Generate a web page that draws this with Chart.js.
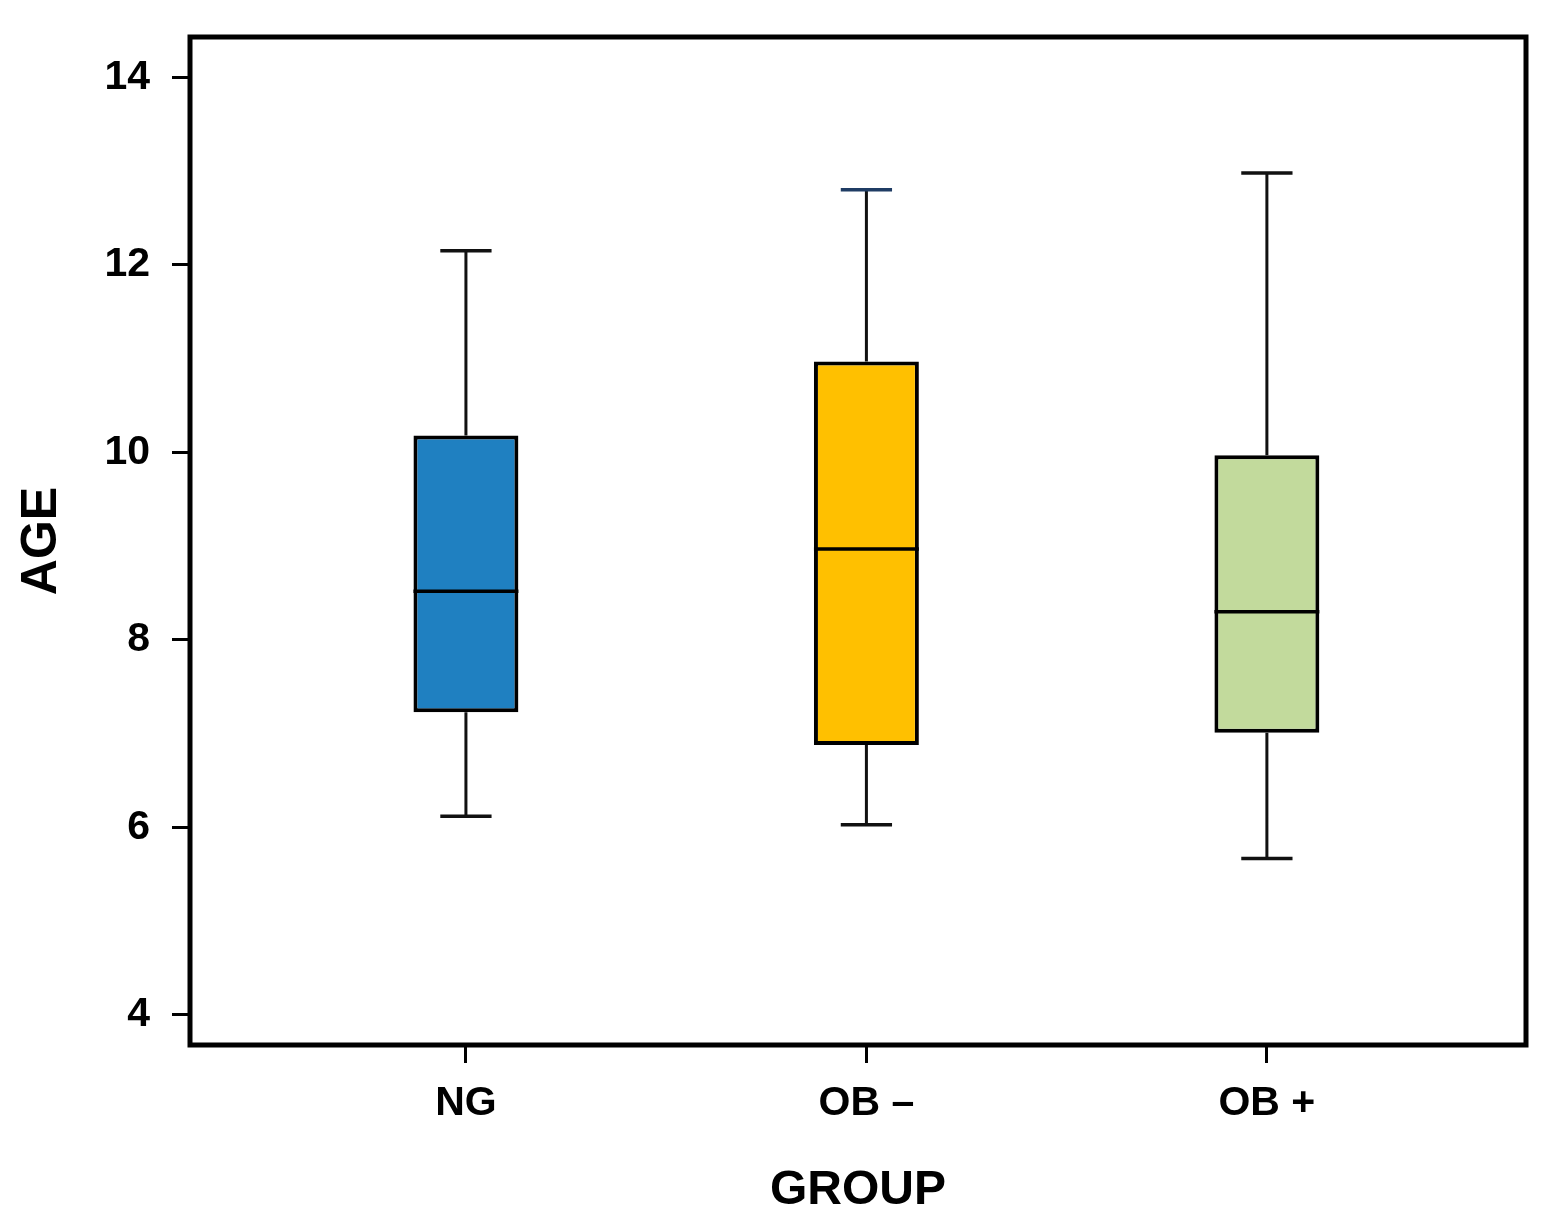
<!DOCTYPE html>
<html>
<head>
<meta charset="utf-8">
<script src="https://cdn.jsdelivr.net/npm/chart.js@4.4.1/dist/chart.umd.min.js"></script>
<style>
  html, body { margin: 0; padding: 0; background: #fff; }
  canvas { display: block; }
</style>
</head>
<body>
<canvas id="boxChart" width="1557" height="1230"></canvas>
<script>
const grupos = ['NG', 'OB –', 'OB +'];
const posiciones = [1, 2, 3];
const minimos = [6.12, 6.03, 5.67];
const cuartil1 = [7.23, 6.88, 7.01];
const medianas = [8.52, 8.97, 8.30];
const cuartil3 = [10.18, 10.97, 9.97];
const maximos = [12.15, 12.80, 12.98];
const ticksY = [4, 6, 8, 10, 12, 14];

const coloresCaja = ['#1f80c1', '#ffc000', '#c2da9c'];
const coloresTope = ['#111111', '#1f3c64', '#111111'];

const mitadCaja = 0.131;  // media anchura de la caja, en unidades de x
const mitadTope = 0.064;
const fuente = "'Liberation Sans', Arial, sans-serif";

// segmentos de bigotes, topes y medianas (null corta la linea)
const bigotes = [];
const topes = [];
const lineasMediana = [];
posiciones.forEach((x, i) => {
  bigotes.push({x: x, y: maximos[i]}, {x: x, y: cuartil3[i]}, {x: x, y: null});
  bigotes.push({x: x, y: cuartil1[i]}, {x: x, y: minimos[i]}, {x: x, y: null});
  topes.push({x: x - mitadTope, y: maximos[i]}, {x: x + mitadTope, y: maximos[i]}, {x: x, y: null});
  topes.push({x: x - mitadTope, y: minimos[i]}, {x: x + mitadTope, y: minimos[i]}, {x: x, y: null});
  lineasMediana.push({x: x - mitadCaja, y: medianas[i]}, {x: x + mitadCaja, y: medianas[i]}, {x: x, y: null});
});

const cajas = posiciones.map((x, i) => ({x: x, y: [cuartil1[i], cuartil3[i]]}));

const marco = {
  id: 'marco',
  afterDraw(chart) {
    const {ctx, chartArea: a} = chart;
    ctx.save();
    ctx.strokeStyle = '#000';
    ctx.lineWidth = 5;
    ctx.strokeRect(a.left, a.top, a.right - a.left, a.bottom - a.top);
    ctx.restore();
  }
};

new Chart(document.getElementById('boxChart'), {
  type: 'bar',
  data: {
    datasets: [
      {
        type: 'line',
        data: lineasMediana,
        borderColor: '#000',
        borderWidth: 3.5,
        pointRadius: 0,
        spanGaps: false,
        order: 0
      },
      {
        type: 'line',
        data: topes,
        borderColor: '#111',
        borderWidth: 3.5,
        pointRadius: 0,
        spanGaps: false,
        segment: {
          borderColor: ctx => (ctx.p0DataIndex % 6 === 0 ? coloresTope[Math.floor(ctx.p0DataIndex / 6)] : '#111')
        },
        order: 1
      },
      {
        type: 'line',
        data: bigotes,
        borderColor: '#111',
        borderWidth: 3,
        pointRadius: 0,
        spanGaps: false,
        order: 2
      },
      {
        type: 'bar',
        data: cajas,
        backgroundColor: coloresCaja,
        borderColor: '#000',
        borderWidth: 4,
        borderSkipped: false,
        categoryPercentage: 1,
        barPercentage: 2 * mitadCaja,
        order: 3
      }
    ]
  },
  options: {
    responsive: false,
    animation: false,
    devicePixelRatio: 1,
    layout: { padding: { top: 37, right: 31, left: 0, bottom: 0 } },
    plugins: { legend: { display: false }, tooltip: { enabled: false } },
    scales: {
      x: {
        type: 'linear',
        min: 0.311,
        max: 3.647,
        offset: false,
        afterBuildTicks: scale => { scale.ticks = posiciones.map(v => ({value: v})); },
        afterFit: scale => {
          scale.height = 185;
          scale.paddingLeft = 0;
          scale.paddingRight = 0;
        },
        grid: { offset: false, drawOnChartArea: false, drawTicks: true, tickLength: 18, tickWidth: 3, tickColor: '#000' },
        border: { display: false },
        ticks: {
          padding: 16,
          maxRotation: 0,
          color: '#000',
          font: { family: fuente, size: 41, weight: 'bold' },
          callback: v => grupos[posiciones.indexOf(v)] ?? ''
        },
        title: {
          display: true,
          text: 'GROUP',
          color: '#000',
          font: { family: fuente, size: 48, weight: 'bold' },
          padding: { top: 0, bottom: 10 }
        }
      },
      y: {
        type: 'linear',
        min: 3.68,
        max: 14.43,
        afterBuildTicks: scale => { scale.ticks = ticksY.map(v => ({value: v})); },
        afterFit: scale => {
          scale.width = 190;
          scale.paddingTop = 0;
          scale.paddingBottom = 0;
        },
        grid: { drawOnChartArea: false, drawTicks: true, tickLength: 18, tickWidth: 3, tickColor: '#000' },
        border: { display: false },
        ticks: {
          padding: 22,
          color: '#000',
          font: { family: fuente, size: 41, weight: 'bold' }
        },
        title: {
          display: true,
          text: 'AGE',
          color: '#000',
          font: { family: fuente, size: 50, weight: 'bold' },
          padding: { top: 12, bottom: 0 }
        }
      }
    }
  },
  plugins: [marco]
});
</script>
</body>
</html>
